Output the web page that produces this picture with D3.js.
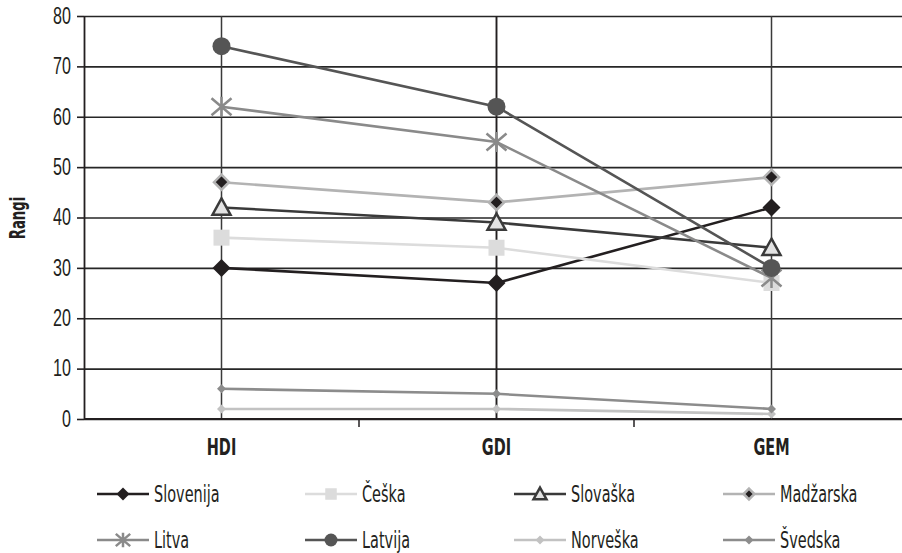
<!DOCTYPE html>
<html>
<head>
<meta charset="utf-8">
<title>Rangi</title>
<script src="https://cdnjs.cloudflare.com/ajax/libs/d3/7.8.5/d3.min.js"></script>
<style>
  body { margin: 0; background: #fff; }
  svg text { font-family: "DejaVu Sans Condensed", "DejaVu Sans", sans-serif; fill: #231f20; }
</style>
</head>
<body>
<svg id="chart" width="902" height="553"></svg>
<script>
// data
var categories = ["HDI", "GDI", "GEM"];
var yTicks = [0, 10, 20, 30, 40, 50, 60, 70, 80];
var countries = ["Slovenija", "Češka", "Slovaška", "Madžarska", "Litva", "Latvija", "Norveška", "Švedska"];
var slovenija = [30, 27, 42];
var ceska     = [36, 34, 27];
var slovaska  = [42, 39, 34];
var madzarska = [47, 43, 48];
var litva     = [62, 55, 28];
var latvija   = [74, 62, 30];
var norveska  = [2, 2, 1];
var svedska   = [6, 5, 2];

var values = [slovenija, ceska, slovaska, madzarska, litva, latvija, norveska, svedska];

// look of each series
var styles = [
  {line: "#231f20", marker: "diamond",  size: 9,   fill: "#231f20", stroke: "none",    sw: 0},
  {line: "#dcdcdc", marker: "square",   size: 8,   fill: "#dcdcdc", stroke: "none",    sw: 0},
  {line: "#3a3a3a", marker: "triangle", size: 9,   fill: "#e3e3e3", stroke: "#3a3a3a", sw: 2.5},
  {line: "#b3b3b3", marker: "diamond",  size: 7.5, fill: "#231f20", stroke: "#b3b3b3", sw: 2.5},
  {line: "#8a8a8a", marker: "star",     size: 10,  fill: "none",    stroke: "#8a8a8a", sw: 2.5},
  {line: "#555555", marker: "circle",   size: 9,   fill: "#555555", stroke: "none",    sw: 0},
  {line: "#c2c2c2", marker: "diamond",  size: 4.5, fill: "#c2c2c2", stroke: "none",    sw: 0},
  {line: "#8c8c8c", marker: "diamond",  size: 4.5, fill: "#8c8c8c", stroke: "none",    sw: 0}
];

var NARROW = 0.7; // the original face is a very condensed one

var svg = d3.select("#chart");
var plotLeft = 84, plotTop = 16, plotBottom = 419;

var x = d3.scaleBand().domain(categories).range([plotLeft, plotLeft + 825]);
var y = d3.scaleLinear().domain([0, 80]).range([plotBottom, plotTop]);
var cx = function(c){ return x(c) + x.bandwidth() / 2; };

// horizontal grid
svg.append("g")
  .attr("transform", "translate(" + plotLeft + ",0)")
  .call(d3.axisLeft(y).tickValues(yTicks).tickSize(-(902 - plotLeft)).tickFormat(""))
  .call(function(g){ g.select(".domain").remove(); })
  .selectAll("line").attr("stroke", "#262626").attr("stroke-width", 1.6);

// vertical grid at category centres
svg.append("g").selectAll("line")
  .data(categories).enter().append("line")
  .attr("x1", cx).attr("x2", cx)
  .attr("y1", y(80)).attr("y2", y(0))
  .attr("stroke", function(d, i){ return i == 1 ? "#231f20" : "#3a3a3a"; })
  .attr("stroke-width", function(d, i){ return i == 1 ? 1.9 : 1.5; });

// y axis
var yAxis = svg.append("g")
  .attr("transform", "translate(" + plotLeft + ",0)")
  .call(d3.axisLeft(y).tickValues(yTicks).tickSize(7).tickSizeOuter(0).tickPadding(6));
yAxis.select(".domain").attr("stroke", "#231f20").attr("stroke-width", 1.8);
yAxis.selectAll("line").attr("stroke", "#231f20").attr("stroke-width", 1.6);
yAxis.selectAll("text")
  .attr("font-size", 23).attr("fill", "#231f20")
  .attr("x", -13 / NARROW)
  .attr("transform", "scale(" + NARROW + ",1)")
  .style("font-family", "inherit");

// x axis
var xAxis = svg.append("g")
  .attr("transform", "translate(0," + plotBottom + ")");
xAxis.append("line")
  .attr("x1", plotLeft).attr("x2", plotLeft + 825)
  .attr("stroke", "#231f20").attr("stroke-width", 1.8);
xAxis.selectAll(".tk")
  .data(categories.slice(1)).enter().append("line")
  .attr("class", "tk")
  .attr("x1", function(d){ return x(d); }).attr("x2", function(d){ return x(d); })
  .attr("y1", 0).attr("y2", 8)
  .attr("stroke", "#231f20").attr("stroke-width", 1.5);
xAxis.selectAll("text")
  .data(categories).enter().append("text")
  .attr("transform", function(d){ return "translate(" + cx(d) + ",36) scale(" + NARROW + ",1)"; })
  .attr("text-anchor", "middle")
  .attr("font-size", 23).attr("font-weight", "bold")
  .text(function(d){ return d; });

// y title
svg.append("text")
  .attr("transform", "translate(25,218) rotate(-90) scale(" + NARROW + ",1)")
  .attr("text-anchor", "middle")
  .attr("font-size", 21).attr("font-weight", "bold")
  .text("Rangi");

function drawMarker(g, st, px, py, scale) {
  var s = st.size * scale;
  if (st.marker == "diamond") {
    g.append("path")
      .attr("d", "M" + px + "," + (py - s) + "L" + (px + s) + "," + py + "L" + px + "," + (py + s) + "L" + (px - s) + "," + py + "Z")
      .attr("fill", st.fill).attr("stroke", st.stroke).attr("stroke-width", st.sw);
  } else if (st.marker == "square") {
    g.append("rect")
      .attr("x", px - s).attr("y", py - s).attr("width", 2 * s).attr("height", 2 * s)
      .attr("fill", st.fill);
  } else if (st.marker == "triangle") {
    g.append("path")
      .attr("d", "M" + px + "," + (py - s) + "L" + (px + s) + "," + (py + s * 0.8) + "L" + (px - s) + "," + (py + s * 0.8) + "Z")
      .attr("fill", st.fill).attr("stroke", st.stroke).attr("stroke-width", st.sw).attr("stroke-linejoin", "miter");
  } else if (st.marker == "circle") {
    g.append("circle").attr("cx", px).attr("cy", py).attr("r", s).attr("fill", st.fill);
  } else if (st.marker == "star") {
    // asterisk: a cross of two diagonals plus a vertical stroke
    var d = "M" + (px - s) + "," + (py - s * 0.85) + "L" + (px + s) + "," + (py + s * 0.85) +
            "M" + (px - s) + "," + (py + s * 0.85) + "L" + (px + s) + "," + (py - s * 0.85) +
            "M" + px + "," + (py - s) + "L" + px + "," + (py + s);
    g.append("path").attr("d", d).attr("fill", "none").attr("stroke", st.stroke).attr("stroke-width", st.sw);
  }
}

var line = d3.line()
  .x(function(d, i){ return cx(categories[i]); })
  .y(function(d){ return y(d); });

// series
values.forEach(function(vals, k){
  var st = styles[k];
  var g = svg.append("g").attr("class", "series");
  g.append("path")
    .attr("d", line(vals))
    .attr("fill", "none")
    .attr("stroke", st.line)
    .attr("stroke-width", 2.6);
  vals.forEach(function(v, i){
    drawMarker(g, st, cx(categories[i]), y(v), 1);
  });
});

// legend
var legX = [97, 305, 514, 723];
var legY = [494, 540];
countries.forEach(function(name, k){
  var st = styles[k];
  var lx = legX[k % 4], ly = legY[Math.floor(k / 4)];
  var g = svg.append("g").attr("class", "legend");
  g.append("line")
    .attr("x1", lx).attr("x2", lx + 52)
    .attr("y1", ly).attr("y2", ly)
    .attr("stroke", st.line).attr("stroke-width", 2.6);
  var sc = st.marker == "diamond" && st.size < 5 ? 1 : 0.72;
  drawMarker(g, st, lx + 26, ly, sc);
  g.append("text")
    .attr("transform", "translate(" + (lx + 57) + "," + ly + ") scale(" + NARROW + ",1)")
    .attr("dy", "0.36em")
    .attr("font-size", 23)
    .text(name);
});
</script>
</body>
</html>
